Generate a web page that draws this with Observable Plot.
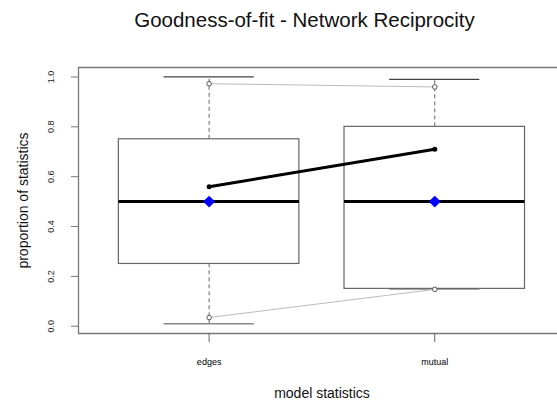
<!DOCTYPE html>
<html>
<head>
<meta charset="utf-8">
<script src="https://cdn.jsdelivr.net/npm/d3@7"></script>
<script src="https://cdn.jsdelivr.net/npm/@observablehq/plot@0.6"></script>
<style>
  html, body { margin: 0; padding: 0; background: #fff; }
  #chart svg { display: block; font-family: "Liberation Sans", Arial, sans-serif; }
</style>
</head>
<body>
<div id="chart"></div>
<script>
// ---- data ----
const categories = ["edges", "mutual"];
const boxLow = [0.25, 0.15];
const boxHigh = [0.75, 0.80];
const medians = [0.50, 0.50];
const whiskerLow = [0.01, 0.15];
const whiskerHigh = [1.00, 0.99];
const observed = [0.56, 0.71];
const simMean = [0.50, 0.50];
const upperBound = [0.973, 0.96];
const lowerBound = [0.035, 0.148];
const yTicks = [0, 0.2, 0.4, 0.6, 0.8, 1.0];

const rows = categories.map((c, i) => ({
  cat: c, pos: i + 1,
  lo: boxLow[i], hi: boxHigh[i], med: medians[i],
  wlo: whiskerLow[i], whi: whiskerHigh[i],
  obs: observed[i], mean: simMean[i],
  ub: upperBound[i], lb: lowerBound[i]
}));

const xDomain = [0.421, 2.544];
const yDomain = [-0.029, 1.038];
const font = "Liberation Sans, Arial, sans-serif";

const chart = Plot.plot({
  width: 557,
  height: 404,
  marginTop: 67,
  marginBottom: 71,
  marginLeft: 78,
  marginRight: 0,
  style: { fontFamily: font, background: "#fff" },
  x: { domain: xDomain, axis: null },
  y: { domain: yDomain, axis: null },
  marks: [
    // frame (left, top, bottom; right side is cropped in the reference)
    Plot.ruleX([xDomain[0]], { stroke: "#777", strokeWidth: 1.3 }),
    Plot.ruleY([yDomain[0], yDomain[1]], { stroke: "#777", strokeWidth: 1.3 }),
    // whiskers
    Plot.ruleX(rows, { x: "pos", y1: "hi", y2: "whi", stroke: "#666", strokeDasharray: "4,3" }),
    Plot.ruleX(rows, { x: "pos", y1: "wlo", y2: "lo", stroke: "#666", strokeDasharray: "4,3" }),
    Plot.ruleY(rows, { y: "whi", x1: d => d.pos - 0.2, x2: d => d.pos + 0.2, stroke: "#444", strokeWidth: 1.2 }),
    Plot.ruleY(rows, { y: "wlo", x1: d => d.pos - 0.2, x2: d => d.pos + 0.2, stroke: "#888", strokeWidth: 1.5 }),
    // boxes
    Plot.rect(rows, { x1: d => d.pos - 0.4, x2: d => d.pos + 0.4, y1: "lo", y2: "hi", fill: "#fff", stroke: "#666", strokeWidth: 1.2 }),
    Plot.ruleY(rows, { y: "med", x1: d => d.pos - 0.4, x2: d => d.pos + 0.4, stroke: "#000", strokeWidth: 3 }),
    // bounds lines
    Plot.line(rows, { x: "pos", y: "ub", stroke: "#bbb", strokeWidth: 1 }),
    Plot.line(rows, { x: "pos", y: "lb", stroke: "#bbb", strokeWidth: 1 }),
    Plot.dot(rows, { x: "pos", y: "ub", r: 2.3, fill: "#fff", stroke: "#555", strokeWidth: 1 }),
    Plot.dot(rows, { x: "pos", y: "lb", r: 2.3, fill: "#fff", stroke: "#555", strokeWidth: 1 }),
    // observed
    Plot.line(rows, { x: "pos", y: "obs", stroke: "#000", strokeWidth: 3 }),
    Plot.dot(rows, { x: "pos", y: "obs", r: 2.5, fill: "#000" }),
    // simulated mean
    Plot.dot(rows, { x: "pos", y: "mean", symbol: "diamond2", r: 5.4, fill: "#0000ff", stroke: "none" }),
    // y axis
    Plot.axisY({ ticks: yTicks, tickSize: 7, tickFormat: () => "", stroke: "#777", label: null }),
    Plot.text(yTicks, { y: d => d, text: d => d.toFixed(1), frameAnchor: "left", dx: -27, rotate: -90, textAnchor: "middle", lineAnchor: "middle", fontSize: 9, fill: "#222" }),
    // x axis
    Plot.axisX({ ticks: rows.map(d => d.pos), tickSize: 9, tickPadding: 16, tickFormat: p => categories[p - 1], fontSize: 9, stroke: "#666", label: null }),
    // axis titles
    Plot.text(["proportion of statistics"], { frameAnchor: "left", dx: -55, rotate: -90, textAnchor: "middle", lineAnchor: "middle", fontSize: 14, fill: "#111" }),
    Plot.text(["model statistics"], { frameAnchor: "bottom", dx: 4, dy: 60, textAnchor: "middle", lineAnchor: "middle", fontSize: 14, fill: "#111" }),
    // title
    Plot.text(["Goodness-of-fit - Network Reciprocity"], { frameAnchor: "top", dx: -13.5, dy: -47, textAnchor: "middle", lineAnchor: "middle", fontSize: 20.5, fill: "#111" })
  ]
});
document.getElementById("chart").appendChild(chart);
</script>
</body>
</html>
